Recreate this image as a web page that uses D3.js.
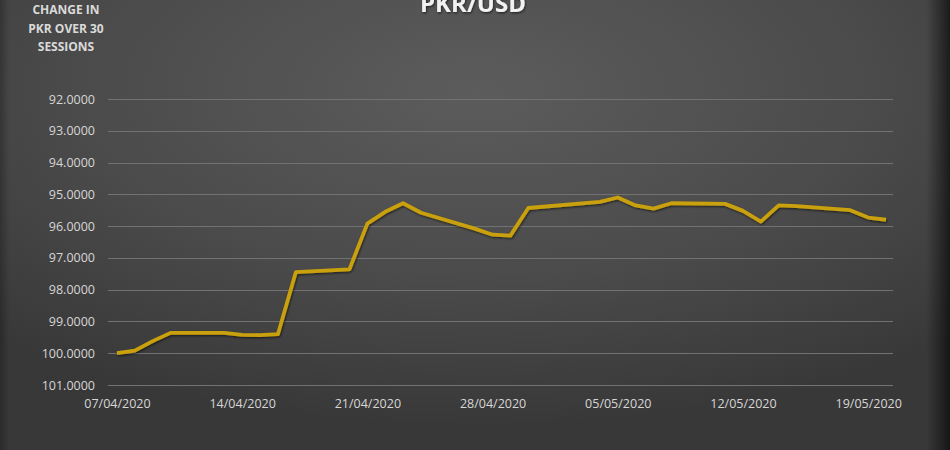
<!DOCTYPE html>
<html>
<head>
<meta charset="utf-8">
<script src="https://cdn.jsdelivr.net/npm/d3@7"></script>
<style>
  html, body { margin: 0; padding: 0; background: #333; }
  svg { display: block; }
  text { font-family: "Open Sans", sans-serif; }
</style>
</head>
<body>
<div id="chart"></div>
<script>
// session dates (dd/mm/yyyy) and PKR per USD closing values
var dates = ["07/04/2020", "08/04/2020", "09/04/2020", "10/04/2020", "13/04/2020", "14/04/2020",
    "15/04/2020", "16/04/2020", "17/04/2020", "20/04/2020", "21/04/2020", "22/04/2020",
    "23/04/2020", "24/04/2020", "27/04/2020", "28/04/2020", "29/04/2020", "30/04/2020",
    "04/05/2020", "05/05/2020", "06/05/2020", "07/05/2020", "08/05/2020", "11/05/2020",
    "12/05/2020", "13/05/2020", "14/05/2020", "15/05/2020", "18/05/2020", "19/05/2020",
    "20/05/2020"];
var rates = [100.00, 99.92, 99.62, 99.36, 99.36, 99.42,
    99.43, 99.40, 97.45, 97.36, 95.92, 95.55,
    95.28, 95.58, 96.08, 96.27, 96.30, 95.43,
    95.24, 95.10, 95.35, 95.45, 95.28, 95.30,
    95.52, 95.86, 95.35, 95.37, 95.50, 95.73,
    95.80];
var xTickLabels = ["07/04/2020", "14/04/2020", "21/04/2020", "28/04/2020", "05/05/2020", "12/05/2020", "19/05/2020"];
var yTicks = [92, 93, 94, 95, 96, 97, 98, 99, 100, 101];

var W = 950, H = 450;
var parseDate = d3.timeParse("%d/%m/%Y");

var svg = d3.select("#chart").append("svg")
    .attr("width", W)
    .attr("height", H);

var defs = svg.append("defs");

var bg = defs.append("radialGradient")
    .attr("id", "bg")
    .attr("cx", "50%").attr("cy", "20%").attr("r", "75%")
    .attr("gradientUnits", "objectBoundingBox");
bg.append("stop").attr("offset", "0%").attr("stop-color", "#5c5c5c");
bg.append("stop").attr("offset", "55%").attr("stop-color", "#4b4b4b");
bg.append("stop").attr("offset", "100%").attr("stop-color", "#383838");

var edge = defs.append("linearGradient")
    .attr("id", "edge")
    .attr("x1", "0").attr("x2", "1").attr("y1", "0").attr("y2", "0");
edge.append("stop").attr("offset", "0%").attr("stop-color", "#000").attr("stop-opacity", 0.25);
edge.append("stop").attr("offset", "1%").attr("stop-color", "#000").attr("stop-opacity", 0);
edge.append("stop").attr("offset", "97.5%").attr("stop-color", "#000").attr("stop-opacity", 0);
edge.append("stop").attr("offset", "100%").attr("stop-color", "#000").attr("stop-opacity", 0.6);

var shadow = defs.append("filter").attr("id", "shadow")
    .attr("x", "-5%").attr("y", "-20%").attr("width", "110%").attr("height", "140%");
shadow.append("feDropShadow")
    .attr("dx", 0.8).attr("dy", 1.2).attr("stdDeviation", 1)
    .attr("flood-color", "#000").attr("flood-opacity", 0.6);

svg.append("rect").attr("width", W).attr("height", H).attr("fill", "url(#bg)");
svg.append("rect").attr("width", W).attr("height", H).attr("fill", "url(#edge)");

// date axis: one slot per calendar day, points in the middle of each day
var x = d3.scaleTime()
    .domain([new Date(2020, 3, 6, 12), new Date(2020, 4, 20, 12)])
    .range([108, 895]);

var y = d3.scaleLinear()
    .domain([92, 101])
    .range([99, 385]);

// gridlines
svg.append("g")
    .selectAll("line")
    .data(yTicks)
    .enter().append("line")
    .attr("x1", 108).attr("x2", 893)
    .attr("y1", function (d) { return Math.round(y(d)) + 0.5; })
    .attr("y2", function (d) { return Math.round(y(d)) + 0.5; })
    .attr("stroke", "#727272")
    .attr("stroke-width", 1);

// y axis labels
var yAxis = d3.axisLeft(y)
    .tickValues(yTicks)
    .tickFormat(d3.format(".4f"))
    .tickSize(0)
    .tickPadding(0);

svg.append("g")
    .attr("transform", "translate(95,0)")
    .call(yAxis)
    .call(function (g) { g.select(".domain").remove(); })
    .selectAll("text")
    .attr("fill", "#d6d6d6")
    .attr("font-size", "12.5px")
    .attr("font-family", "Open Sans, sans-serif");

// x axis labels
var xAxis = d3.axisBottom(x)
    .tickValues(xTickLabels.map(parseDate))
    .tickFormat(d3.timeFormat("%d/%m/%Y"))
    .tickSize(0)
    .tickPadding(0);

svg.append("g")
    .attr("transform", "translate(0,399)")
    .call(xAxis)
    .call(function (g) { g.select(".domain").remove(); })
    .selectAll("text")
    .attr("fill", "#d6d6d6")
    .attr("font-size", "12.5px")
    .attr("font-family", "Open Sans, sans-serif");

// the line
var data = dates.map(function (d, i) { return {date: parseDate(d), value: rates[i]}; });

var line = d3.line()
    .x(function (d) { return x(d.date); })
    .y(function (d) { return y(d.value); });

svg.append("path")
    .datum(data)
    .attr("d", line)
    .attr("fill", "none")
    .attr("stroke", "#c9a00c")
    .attr("stroke-width", 3.8)
    .attr("stroke-linejoin", "round")
    .attr("filter", "url(#shadow)");

// titles
svg.append("text")
    .attr("x", 473).attr("y", 12)
    .attr("text-anchor", "middle")
    .attr("font-size", "24px")
    .attr("font-weight", "bold")
    .attr("fill", "#f2f2f2")
    .attr("filter", "url(#shadow)")
    .text("PKR/USD");

var sideTitle = ["CHANGE IN", "PKR OVER 30", "SESSIONS"];
svg.append("g")
    .selectAll("text")
    .data(sideTitle)
    .enter().append("text")
    .attr("x", 66)
    .attr("y", function (d, i) { return 14 + i * 18.5; })
    .attr("text-anchor", "middle")
    .attr("font-size", "12px")
    .attr("font-weight", "bold")
    .attr("fill", "#dadada")
    .text(function (d) { return d; });
</script>
</body>
</html>
